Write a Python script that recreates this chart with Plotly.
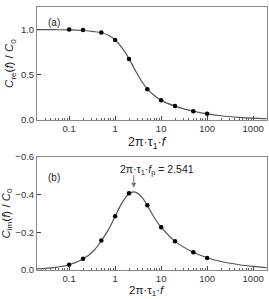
import numpy as np
import plotly.graph_objects as go

# measured data points
x_pts = [0.1, 0.2, 0.5, 1, 2, 5, 10, 20, 50, 100]
re_pts = [1.0, 0.995, 0.967, 0.884, 0.676, 0.342, 0.218, 0.156, 0.098, 0.069]
im_pts = [-0.028, -0.060, -0.156, -0.285, -0.407, -0.343, -0.227, -0.152, -0.094, -0.064]

# fitted curves
x_re_curve = [0.02, 0.05, 0.1, 0.2, 0.35, 0.5, 0.7, 1, 1.4, 2, 2.8, 4, 5, 7, 10, 20, 50, 100, 200, 500, 1000, 2000]
re_curve = [1.0, 0.999, 0.997, 0.99, 0.978, 0.965, 0.94, 0.885, 0.80, 0.68, 0.54, 0.41, 0.345, 0.275, 0.218,
            0.155, 0.099, 0.069, 0.048, 0.030, 0.021, 0.015]
x_im_curve = [0.02, 0.05, 0.1, 0.2, 0.35, 0.5, 0.7, 1, 1.4, 2, 2.541, 3.2, 4, 5, 7, 10, 20, 50, 100, 200, 500, 1000, 2000]
im_curve = [-0.006, -0.014, -0.028, -0.058, -0.105, -0.155, -0.21, -0.285, -0.355, -0.405, -0.415, -0.405,
            -0.38, -0.343, -0.28, -0.227, -0.152, -0.094, -0.065, -0.045, -0.028, -0.019, -0.012]

x_tickvals = [0.1, 1, 10, 100, 1000]
x_ticktext = ["0.1", "1", "10", "100", "1000"]
minor_vals = [m * 10.0 ** e for e in range(-2, 4) for m in range(2, 10)]

FONT = "Liberation Sans, Arial, sans-serif"
fig = go.Figure()

curve_style = dict(color="#555555", width=1.2)
marker_style = dict(color="black", size=4.5, symbol="circle")

fig.add_trace(go.Scatter(x=x_re_curve, y=re_curve, mode="lines", line=curve_style, line_shape="spline",
                         xaxis="x", yaxis="y", showlegend=False))
fig.add_trace(go.Scatter(x=x_pts, y=re_pts, mode="markers", marker=marker_style,
                         xaxis="x", yaxis="y", showlegend=False))
fig.add_trace(go.Scatter(x=x_im_curve, y=im_curve, mode="lines", line=curve_style, line_shape="spline",
                         xaxis="x2", yaxis="y2", showlegend=False))
fig.add_trace(go.Scatter(x=x_pts, y=im_pts, mode="markers", marker=marker_style,
                         xaxis="x2", yaxis="y2", showlegend=False))

xaxis_common = dict(type="log", range=[np.log10(0.02), np.log10(2000)], tickvals=x_tickvals, ticktext=x_ticktext,
                    ticks="inside", ticklen=4, tickcolor="#444", showline=True, mirror=True,
                    linecolor="#888", linewidth=1, showgrid=False, zeroline=False,
                    tickfont=dict(size=9.5, color="#333", family=FONT),
                    minor=dict(tickvals=minor_vals, ticks="inside", ticklen=2, tickcolor="#666", showgrid=False))
x_title = "2π·τ<sub>1</sub>·<i>f</i>"
yaxis_common = dict(ticks="inside", ticklen=4, tickcolor="#444", showline=True, mirror=True,
                    linecolor="#888", linewidth=1, showgrid=False, zeroline=False,
                    tickfont=dict(size=9.5, color="#333", family=FONT), tickformat=".1f")

fig.update_layout(
    width=269, height=299,
    margin=dict(l=37, r=1, t=5, b=29),
    plot_bgcolor="white", paper_bgcolor="white",
    font=dict(family=FONT, color="#222"),
    xaxis=dict(**xaxis_common, domain=[0, 1], anchor="y"),
    yaxis=dict(**yaxis_common, domain=[0.570, 1.0], anchor="x", range=[0, 1.25], tickvals=[0, 0.5, 1.0],
               title=dict(text="<i>C</i><sub>re</sub>(<i>f</i>) / <i>C</i><sub>0</sub>",
                          font=dict(size=11.5, family=FONT), standoff=4)),
    xaxis2=dict(**xaxis_common, domain=[0, 1], anchor="y2"),
    yaxis2=dict(**yaxis_common, domain=[0.0, 0.430], anchor="x2", range=[0, -0.6],
                tickvals=[0, -0.2, -0.4, -0.6],
                title=dict(text="<i>C</i><sub>im</sub>(<i>f</i>) / <i>C</i><sub>0</sub>",
                           font=dict(size=11.5, family=FONT), standoff=4)),
    annotations=[
        dict(text=x_title, x=0.48, y=0.483, xref="paper", yref="paper", xanchor="center", yanchor="middle",
             showarrow=False, font=dict(size=12.5, family=FONT, color="#222")),
        dict(text=x_title, x=0.48, y=-0.109, xref="paper", yref="paper", xanchor="center", yanchor="bottom",
             showarrow=False, borderpad=0, font=dict(size=11.5, family=FONT, color="#222")),
        dict(text="(a)", x=0.04, y=1.0 - 0.03, xref="paper", yref="paper", xanchor="left", yanchor="top",
             showarrow=False, font=dict(size=10, family=FONT, color="#222")),
        dict(text="(b)", x=0.04, y=0.430 - 0.05, xref="paper", yref="paper", xanchor="left", yanchor="top",
             showarrow=False, font=dict(size=10, family=FONT, color="#222")),
        dict(text="", x=np.log10(2.541), y=-0.437, xref="x2", yref="y2", showarrow=True,
             ax=0, ay=-14, arrowhead=2, arrowsize=1, arrowwidth=1, arrowcolor="#777"),
        dict(text="2π·τ<sub>1</sub>·<i>f</i><sub>p</sub> = 2.541", x=np.log10(8.2), y=-0.53,
             xref="x2", yref="y2", showarrow=False, xanchor="center", yanchor="middle",
             font=dict(size=10.5, family=FONT, color="#222")),
    ],
)

fig.write_html("out.html")
